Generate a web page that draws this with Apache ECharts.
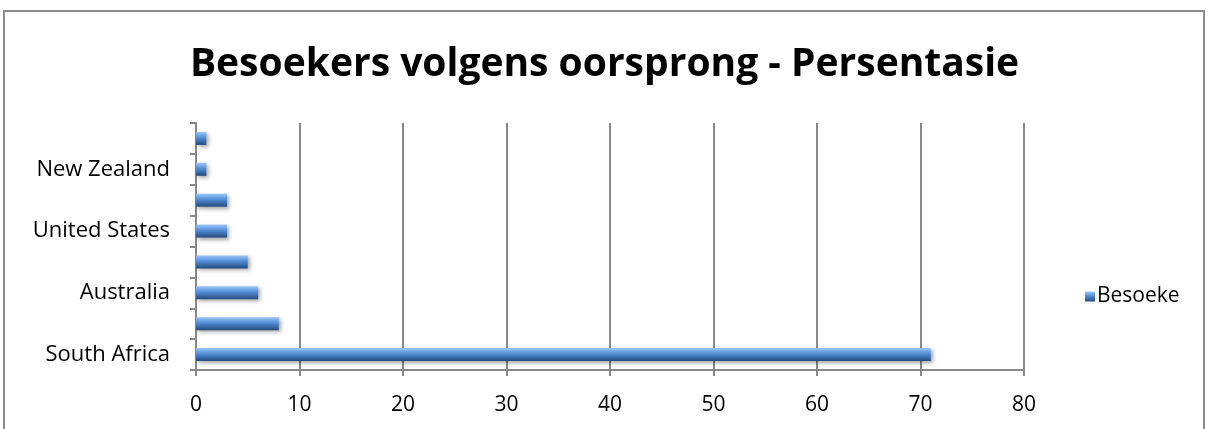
<!DOCTYPE html>
<html><head><meta charset="utf-8">
<script src="https://cdn.jsdelivr.net/npm/echarts@6/dist/echarts.min.js"></script>
<style>
html,body{margin:0;padding:0;background:#fff;}
#frame{position:absolute;left:3px;top:10px;width:1202px;height:420px;border:2px solid #8c8c8c;border-bottom:none;box-sizing:border-box;}
#c{position:absolute;left:0;top:0;width:1209px;height:429px;}
</style></head>
<body>
<div id="frame"></div>
<div id="c"></div>
<script>
const titleText = 'Besoekers volgens oorsprong - Persentasie';
const seriesName = 'Besoeke';
// bottom to top
const categories = ['South Africa', 'Namibia', 'Australia', 'United Kingdom', 'United States', 'Europe', 'New Zealand', 'Other'];
const values = [71, 8, 6, 5, 3, 3, 1, 1];
const xTicks = [0, 10, 20, 30, 40, 50, 60, 70, 80];

const chart = echarts.init(document.getElementById('c'), null, {renderer: 'canvas'});
const barGrad = new echarts.graphic.LinearGradient(0, 0, 0, 1, [
  {offset: 0, color: '#9cc6f7'},
  {offset: 0.25, color: '#6ea6e8'},
  {offset: 0.55, color: '#4a80c6'},
  {offset: 1, color: '#234a7c'}
]);
chart.setOption({
  animation: false,
  backgroundColor: 'transparent',
  title: {
    text: titleText, left: 'center', top: 40,
    textStyle: {fontFamily: 'Open Sans', fontWeight: 'bold', fontSize: 39, color: '#000'}
  },
  legend: {
    data: [seriesName], left: 1080, top: 281, orient: 'vertical',
    icon: 'rect', itemWidth: 10, itemHeight: 10, itemGap: 4,
    textStyle: {fontFamily: 'Open Sans', fontSize: 21, color: '#000', padding: [0,0,0,-3]}
  },
  grid: {left: 196, right: 185, top: 123, bottom: 59, containLabel: false},
  xAxis: {
    type: 'value', min: 0, max: 80, interval: 10,
    axisLine: {show: true, lineStyle: {color: '#888', width: 2}},
    axisTick: {show: true, length: 6, lineStyle: {color: '#888', width: 2}},
    axisLabel: {fontFamily: 'Open Sans', fontSize: 21, color: '#000', margin: 25,
      formatter: v => xTicks.includes(v) ? String(v) : ''},
    splitLine: {show: true, lineStyle: {color: '#888', width: 2}}
  },
  yAxis: {
    type: 'category', data: categories,
    axisLine: {show: true, lineStyle: {color: '#888', width: 2}},
    axisTick: {show: true, length: 6, interval: 0, lineStyle: {color: '#888', width: 2}},
    axisLabel: {interval: 1, fontFamily: 'Open Sans', fontSize: 22, color: '#000', margin: 26},
    splitLine: {show: false}
  },
  series: [{
    name: seriesName, type: 'bar', data: values, barWidth: 13,
    itemStyle: {color: barGrad, shadowColor: 'rgba(0,0,0,0.35)', shadowBlur: 4, shadowOffsetX: 2, shadowOffsetY: 2}
  }]
});
</script>
</body></html>
